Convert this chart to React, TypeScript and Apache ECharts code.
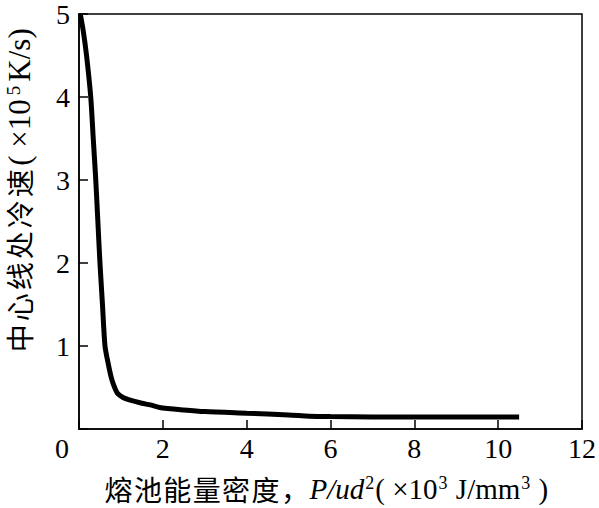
import React, { useEffect, useRef } from "react";
import * as echarts from "echarts";

const energyDensity = [0.03, 0.1, 0.18, 0.28, 0.34, 0.4, 0.45, 0.5, 0.56, 0.62, 0.7, 0.78, 0.85, 0.92, 1.05, 1.2, 1.5, 1.7, 1.92, 2.5, 3.0, 4.0, 5.0, 5.5, 6.0, 7.0, 8.0, 9.0, 10.0, 10.5];
const coolingRate = [5.0, 4.8, 4.5, 4.0, 3.5, 3.0, 2.5, 2.0, 1.5, 1.0, 0.78, 0.6, 0.5, 0.43, 0.38, 0.35, 0.31, 0.29, 0.26, 0.23, 0.21, 0.19, 0.17, 0.155, 0.15, 0.145, 0.145, 0.145, 0.145, 0.145];
const xTicks = [0, 2, 4, 6, 8, 10, 12];
const yTicks = [0, 1, 2, 3, 4, 5];
const yTitleCjk = ["中", "心", "线", "处", "冷", "速"];
const xTitleCjk = ["熔", "池", "能", "量", "密", "度", "，"];

const FONT = "'Liberation Serif', 'Times New Roman', 'Noto Sans CJK SC', serif";
const CJK = "'Noto Sans CJK SC', 'Liberation Serif', serif";

export default function App() {
  const ref = useRef<HTMLDivElement>(null);
  useEffect(() => {
    if (!ref.current) return;
    const chart = echarts.init(ref.current, null, { renderer: "svg" });
    const data = energyDensity.map((x, i) => [x, coolingRate[i]]);
    const yTitle = yTitleCjk.map((c) => `{c|${c}}`).join("") + "{t|( ×10}{s|5}{t|K/s)}";
    const xTitle = xTitleCjk.map((c) => `{c|${c}}`).join("") + "{i|P/ud}{s|2}{t|( ×10}{s|3}{t| J/mm}{s|3}{t| )}";
    chart.setOption({
      animation: false,
      backgroundColor: "#ffffff",
      grid: {
        left: 79,
        top: 12,
        right: 13,
        bottom: 79,
        show: true,
        borderColor: "#000",
        borderWidth: 1.5,
        backgroundColor: "transparent",
      },
      xAxis: {
        type: "value",
        min: xTicks[0],
        max: xTicks[xTicks.length - 1],
        interval: 2,
        axisLine: { show: true, lineStyle: { color: "#000", width: 1.5 } },
        axisTick: { show: true, inside: true, length: 9, lineStyle: { color: "#000", width: 1.5 } },
        splitLine: { show: false },
        axisLabel: {
          color: "#000",
          fontFamily: FONT,
          fontSize: 28,
          margin: 5,
          formatter: (v: number) => (v === 0 ? "{z|0}" : String(v)),
          rich: { z: { fontFamily: FONT, fontSize: 28, color: "#000", padding: [0, 34, 0, 0] } },
        },
      },
      yAxis: {
        type: "value",
        min: yTicks[0],
        max: yTicks[yTicks.length - 1],
        interval: 1,
        axisLine: { show: true, lineStyle: { color: "#000", width: 1.5 } },
        axisTick: { show: true, inside: true, length: 9, lineStyle: { color: "#000", width: 1.5 } },
        splitLine: { show: false },
        axisLabel: {
          color: "#000",
          fontFamily: FONT,
          fontSize: 28,
          margin: 9,
          formatter: (v: number) => (v === 0 ? "" : String(v)),
        },
      },
      graphic: [
        {
          type: "text",
          x: 19,
          y: 190,
          rotation: Math.PI / 2,
          style: {
            text: yTitle,
            align: "center",
            verticalAlign: "middle",
            fill: "#000",
            rich: {
              c: { fontFamily: CJK, fontSize: 28, fill: "#000", padding: [0, 1.5, 0, 1.5] },
              t: { fontFamily: FONT, fontSize: 31, fill: "#000", padding: [0, 2, 0, 2] },
              s: { fontFamily: FONT, fontSize: 19, fill: "#000", verticalAlign: "top", padding: [0, 2, 12, 2] },
            },
          },
        },
        {
          type: "text",
          x: 326,
          y: 489,
          style: {
            text: xTitle,
            align: "center",
            verticalAlign: "middle",
            fill: "#000",
            rich: {
              c: { fontFamily: CJK, fontSize: 28, fill: "#000", padding: [0, 0.7, 0, 0.7] },
              i: { fontFamily: FONT, fontSize: 29, fontStyle: "italic", fill: "#000" },
              t: { fontFamily: FONT, fontSize: 29, fill: "#000" },
              s: { fontFamily: FONT, fontSize: 18, fill: "#000", verticalAlign: "top", padding: [0, 1, 12, 1] },
            },
          },
        },
      ],
      series: [
        {
          type: "line",
          data,
          showSymbol: false,
          symbol: "none",
          smooth: 0.25,
          lineStyle: { color: "#000", width: 5 },
          clip: true,
        },
      ],
    });
    return () => chart.dispose();
  }, []);
  return <div ref={ref} style={{ width: 599, height: 508, position: "absolute", left: 0, top: 0 }} />;
}
